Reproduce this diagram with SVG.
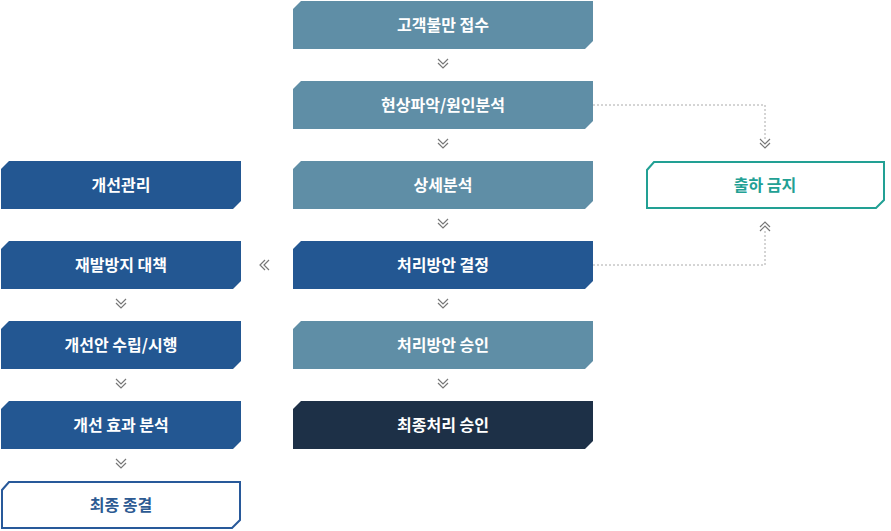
<svg xmlns="http://www.w3.org/2000/svg" width="891" height="531" viewBox="0 0 891 531">
<defs>
<style>
.t{font-family:"Noto Sans CJK KR","Noto Sans",sans-serif;font-size:16px;font-weight:bold;text-anchor:middle;fill:#fff}
.s{fill:#5f8ea6}
.b{fill:#235792}
.n{fill:#1d3047}
.ch{fill:none;stroke:#777;stroke-width:1.2}
.dash{fill:none;stroke:#aaa;stroke-width:1;stroke-dasharray:2 2}
</style>
<g id="dd"><path class="ch" d="M-5,-4 L0,1 L5,-4 M-5,0 L0,5 L5,0"/></g>
</defs>
<g id="connectors">
<use href="#dd" x="443" y="63"/>
<use href="#dd" x="443" y="143"/>
<use href="#dd" x="443" y="223"/>
<use href="#dd" x="443" y="303"/>
<use href="#dd" x="443" y="383"/>
<use href="#dd" x="121" y="303"/>
<use href="#dd" x="121" y="383"/>
<use href="#dd" x="121" y="463"/>
<path class="ch" d="M265,260 L260,265 L265,270 M269,260 L264,265 L269,270"/>
<path class="dash" d="M593,105 H765 V140"/>
<use href="#dd" x="765" y="143"/>
<path class="dash" d="M593,265 H765 V230"/>
<path class="ch" d="M760,227 L765,222 L770,227 M760,231 L765,226 L770,231"/>
</g>
<g id="n1"><path class="s" d="M301,1 H593 V41 L585,49 H293 V9 Z"/><text class="t" x="443" y="31">고객불만 접수</text></g>
<g id="n2"><path class="s" d="M301,81 H593 V121 L585,129 H293 V89 Z"/><text class="t" x="443" y="111">현상파악/원인분석</text></g>
<g id="n3"><path class="s" d="M301,161 H593 V201 L585,209 H293 V169 Z"/><text class="t" x="443" y="191">상세분석</text></g>
<g id="n4"><path class="b" d="M301,241 H593 V281 L585,289 H293 V249 Z"/><text class="t" x="443" y="271">처리방안 결정</text></g>
<g id="n5"><path class="s" d="M301,321 H593 V361 L585,369 H293 V329 Z"/><text class="t" x="443" y="351">처리방안 승인</text></g>
<g id="n6"><path class="n" d="M301,401 H593 V441 L585,449 H293 V409 Z"/><text class="t" x="443" y="431">최종처리 승인</text></g>
<g id="l1"><path class="b" d="M9,161 H241 V201 L233,209 H1 V169 Z"/><text class="t" x="121" y="191">개선관리</text></g>
<g id="l2"><path class="b" d="M9,241 H241 V281 L233,289 H1 V249 Z"/><text class="t" x="121" y="271">재발방지 대책</text></g>
<g id="l3"><path class="b" d="M9,321 H241 V361 L233,369 H1 V329 Z"/><text class="t" x="121" y="351">개선안 수립/시행</text></g>
<g id="l4"><path class="b" d="M9,401 H241 V441 L233,449 H1 V409 Z"/><text class="t" x="121" y="431">개선 효과 분석</text></g>
<g id="l5"><path d="M9,482 H240 V520 L232,528 H2 V490 Z" fill="#fff" stroke="#28599a" stroke-width="2"/><text class="t" x="121" y="511" style="fill:#2c5a92">최종 종결</text></g>
<g id="r1"><path d="M654,162 H884 V200 L876,208 H647 V170 Z" fill="#fff" stroke="#22a094" stroke-width="2"/><text class="t" x="765" y="191" style="fill:#22a094">출하 금지</text></g>
</svg>
